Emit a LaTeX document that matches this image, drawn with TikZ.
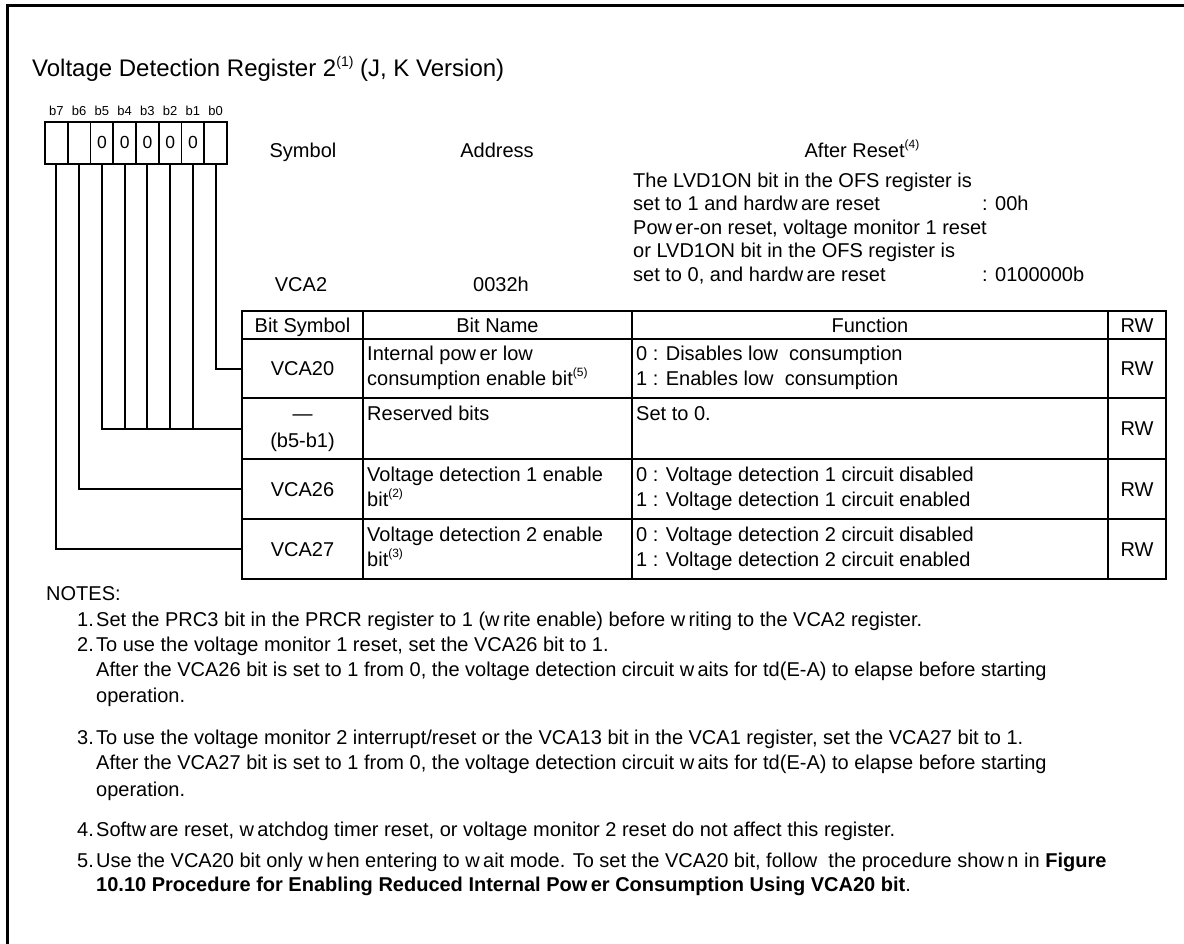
\documentclass[tikz,border=0pt]{standalone}
\usepackage{fontspec}
\setmainfont{Liberation Sans}
\newcommand\supn[1]{\raisebox{0.42em}{\fontsize{12}{12}\selectfont(#1)}}
\newcommand\gp{\hspace{0.17em}}
\begin{document}
\begin{tikzpicture}[x=1pt,y=-1pt]
\useasboundingbox (0,0) rectangle (1184,944);
\tikzset{
  txt/.style={inner sep=0pt, font=\fontsize{20}{24}\selectfont, text height=14.3pt, text depth=0pt},
  tl/.style={txt, anchor=west},
  tc/.style={txt, anchor=center},
  small/.style={inner sep=0pt, font=\fontsize{13}{14}\selectfont, text height=9.4pt, text depth=0pt, anchor=center},
  zero/.style={inner sep=0pt, font=\fontsize{17.5}{20}\selectfont, text height=12.5pt, text depth=0pt, anchor=center},
  grid/.style={line width=2pt},
  cellsep/.style={line width=1.6pt},
  wire/.style={line width=2pt},
  frame/.style={line width=2.8pt},
}
% outer frame (top and left edges visible)
\draw[frame] (7.2,944) -- (7.2,5.5) -- (1184,5.5);

% title
\node[inner sep=0pt, anchor=base west, font=\fontsize{24}{28}\selectfont] (title) at (32,77)
  {Voltage Detection Register 2\raisebox{0.42em}{\fontsize{14}{14}\selectfont(1)} (J, K Version)};

% bit labels, register cells
\foreach \i in {0,...,7} {
  \pgfmathsetmacro\bx{56.4+22.75*\i}
  \pgfmathtruncatemacro\bn{7-\i}
  \node[small] (bl\bn) at (\bx,111) {b\bn};
  \coordinate (c\bn) at (\bx,164);
}
\draw[grid] (45,122.5) rectangle (227,164);
\foreach \i in {1,...,7} \draw[cellsep] ({45+22.75*\i},122.5) -- ({45+22.75*\i},164);
\foreach \i in {2,...,6} {
  \pgfmathsetmacro\bx{56.4+22.75*\i}
  \pgfmathtruncatemacro\bn{7-\i}
  \node[zero] (z\bn) at (\bx,142) {0};
}

% header texts
\node[tc] (hsym) at (303,150) {Symbol};
\node[tc] (hadr) at (497,150) {Address};
\node[tc] (hrst) at (862,150) {After Reset\supn{4}};
\node[tl] (ar1) at (633,180) {The LVD1ON bit in the OFS register is};
\node[tl] (ar2) at (633,203) {set to 1 and hardw\gp are reset};
\node[tl] (ar2v) at (982,203) {: 00h};
\node[tl] (ar3) at (633,227) {Pow\gp er-on reset, voltage monitor 1 reset};
\node[tl] (ar4) at (633,250) {or LVD1ON bit in the OFS register is};
\node[tl] (ar5) at (633,274) {set to 0, and hardw\gp are reset};
\node[tl] (ar5v) at (982,274) {: 0100000b};
\node[tc] (sym) at (301,284) {VCA2};
\node[tc] (adr) at (501,284) {0032h};

% table
\draw[grid] (242,311) rectangle (1166,579);
\foreach \yy in {339,398,459,519} \draw[grid] (242,\yy) -- (1166,\yy);
\foreach \xx in {363,632,1108} \draw[grid] (\xx,311) -- (\xx,579);

\node[tc] (h1) at (302.5,325) {Bit Symbol};
\node[tc] (h2) at (497.5,325) {Bit Name};
\node[tc] (h3) at (870,325) {Function};
\node[tc] (h4) at (1137,325) {RW};

\node[tc] (s20) at (302.5,368.5) {VCA20};
\node[tl] (n20a) at (367,353) {Internal pow\gp er low};
\node[tl] (n20b) at (367,378) {consumption enable bit\supn{5}};
\node[tl] (f20a) at (636,353) {0 : Disables low\ \ consumption};
\node[tl] (f20b) at (636,378) {1 : Enables low\ \ consumption};
\node[tc] (rw20) at (1137,368.5) {RW};

\node[tc] (sresa) at (302.5,413) {---};
\node[tc] (sresb) at (302.5,440) {(b5-b1)};
\node[tl] (nres) at (367,413) {Reserved bits};
\node[tl] (fres) at (636,413) {Set to 0.};
\node[tc] (rwres) at (1137,428.5) {RW};

\node[tc] (s26) at (302.5,489) {VCA26};
\node[tl] (n26a) at (367,474) {Voltage detection 1 enable};
\node[tl] (n26b) at (367,499) {bit\supn{2}};
\node[tl] (f26a) at (636,474) {0 : Voltage detection 1 circuit disabled};
\node[tl] (f26b) at (636,499) {1 : Voltage detection 1 circuit enabled};
\node[tc] (rw26) at (1137,489) {RW};

\node[tc] (s27) at (302.5,549) {VCA27};
\node[tl] (n27a) at (367,534) {Voltage detection 2 enable};
\node[tl] (n27b) at (367,559) {bit\supn{3}};
\node[tl] (f27a) at (636,534) {0 : Voltage detection 2 circuit disabled};
\node[tl] (f27b) at (636,559) {1 : Voltage detection 2 circuit enabled};
\node[tc] (rw27) at (1137,549) {RW};

% wires from bits to table rows
\coordinate (t20) at (242,368.5);
\coordinate (tres) at (242,428.5);
\coordinate (t26) at (242,489);
\coordinate (t27) at (242,549);
\draw[wire] (c0) |- (t20);
\draw[wire] (c5) |- (tres);
\foreach \k in {1,2,3,4} \draw[wire] (c\k) -- (c\k |- tres);
\draw[wire] (c6) |- (t26);
\draw[wire] (c7) |- (t27);

% notes
\node[tl] (notes) at (46,593) {NOTES:};
\node[tl] (k1) at (77,619) {1.};
\node[tl] (m1) at (96,619) {Set the PRC3 bit in the PRCR register to 1 (w\gp rite enable) before w\gp riting to the VCA2 register.};
\node[tl] (k2) at (77,644) {2.};
\node[tl] (m2a) at (96,644) {To use the voltage monitor 1 reset, set the VCA26 bit to 1.};
\node[tl] (m2b) at (96,669) {After the VCA26 bit is set to 1 from 0, the voltage detection circuit w\gp aits for td(E-A) to elapse before starting};
\node[tl] (m2c) at (96,695) {operation.};
\node[tl] (k3) at (77,737) {3.};
\node[tl] (m3a) at (96,737) {To use the voltage monitor 2 interrupt/reset or the VCA13 bit in the VCA1 register, set the VCA27 bit to 1.};
\node[tl] (m3b) at (96,762) {After the VCA27 bit is set to 1 from 0, the voltage detection circuit w\gp aits for td(E-A) to elapse before starting};
\node[tl] (m3c) at (96,789) {operation.};
\node[tl] (k4) at (77,829) {4.};
\node[tl] (m4) at (96,829) {Softw\gp are reset, w\gp atchdog timer reset, or voltage monitor 2 reset do not affect this register.};
\node[tl] (k5) at (77,860) {5.};
\node[tl] (m5a) at (96,860) {Use the VCA20 bit only w\gp hen entering to w\gp ait mode. To set the VCA20 bit, follow\ \ the procedure show\gp n in \textbf{Figure}};
\node[tl] (m5b) at (96,884) {\textbf{10.10 Procedure for Enabling Reduced Internal Pow\gp er Consumption Using VCA20 bit}.};
\end{tikzpicture}
\end{document}
